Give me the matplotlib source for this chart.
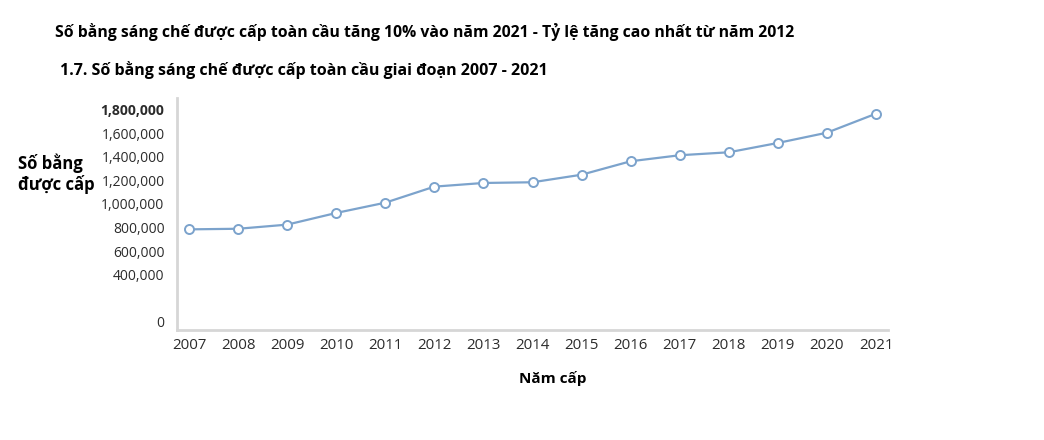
import matplotlib.pyplot as plt
from matplotlib.ticker import FuncFormatter

# Du lieu doc tu hinh
nam = [2007, 2008, 2009, 2010, 2011, 2012, 2013, 2014, 2015, 2016, 2017, 2018, 2019, 2020, 2021]
so_bang = [785000, 790000, 825000, 924000, 1011000, 1147000, 1178000, 1184000,
           1248000, 1362000, 1413000, 1438000, 1517000, 1604000, 1765000]
y_ticks = [0, 400000, 600000, 800000, 1000000, 1200000, 1400000, 1600000, 1800000]

tieu_de = "Số bằng sáng chế được cấp toàn cầu tăng 10% vào năm 2021 - Tỷ lệ tăng cao nhất từ năm 2012"
tieu_de_2 = "1.7. Số bằng sáng chế được cấp toàn cầu giai đoạn 2007 - 2021"

plt.rcParams['font.family'] = ['Open Sans', 'DejaVu Sans']

fig = plt.figure(figsize=(10.44, 4.4), dpi=100)
ax = fig.add_axes([177 / 1044, 110 / 440, (888 - 177) / 1044, (330 - 98) / 440])

mau = "#7ca3cc"
ax.plot(nam, so_bang, color=mau, lw=1.6, marker="o", ms=6.5,
        markerfacecolor="white", markeredgecolor=mau, markeredgewidth=1.4)

ax.set_xlim(2006.755, 2021.245)
ax.set_ylim(-67800, 1898000)
ax.set_xticks(nam)
ax.set_yticks(y_ticks)
ax.yaxis.set_major_formatter(FuncFormatter(lambda v, p: f"{int(v):,}"))
ax.tick_params(length=0, colors="#2b2b2b")
ax.tick_params(axis="y", pad=9, labelsize=10)
ax.tick_params(axis="x", pad=6, labelsize=10.8)
ax.get_yticklabels()[-1].set_fontweight("bold")

for s in ["top", "right"]:
    ax.spines[s].set_visible(False)
for s in ["left", "bottom"]:
    ax.spines[s].set_color("#d6d6d6")
    ax.spines[s].set_linewidth(2)

fig.text(55 / 1044, 1 - 32 / 440, tieu_de, fontsize=11.35, fontweight="bold", va="center")
fig.text(60 / 1044, 1 - 70 / 440, tieu_de_2, fontsize=11.5, fontweight="bold", va="center")
fig.text(18 / 1044, 1 - 174 / 440, "Số bằng\nđược cấp", fontsize=12, fontweight="bold",
         va="center", ha="left", linespacing=1.15)
fig.text(553 / 1044, 1 - 378 / 440, "Năm cấp", fontsize=11, fontweight="bold",
         va="center", ha="center")

fig.savefig("out.png", dpi=100)
